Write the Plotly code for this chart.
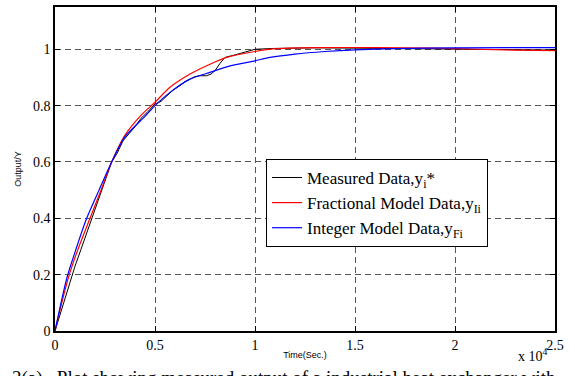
import plotly.graph_objects as go

# ---- data ----
t_meas = [0, 300, 500, 800, 1000, 1300, 1600, 1833, 2100, 2400, 2833, 3100, 3400, 3700,
          4000, 4300, 4600, 5000, 5300, 5600, 5900, 6250, 6500, 6750, 7000, 7250, 7580,
          7800, 8000, 8250, 8500, 9000, 9500, 10000, 11000, 13000, 15000, 17000, 19000,
          21000, 23000, 25000]
y_meas = [0, 0.07, 0.12, 0.19, 0.23, 0.29, 0.35, 0.40, 0.45, 0.51, 0.60, 0.63, 0.675, 0.70,
          0.725, 0.755, 0.775, 0.806, 0.815, 0.835, 0.855, 0.871, 0.885, 0.894, 0.903, 0.906,
          0.906, 0.912, 0.924, 0.950, 0.971, 0.980, 0.990, 1.0, 1.003, 1.005, 1.004, 1.003,
          1.002, 1.0, 0.998, 0.997]

t_frac = [0, 250, 715, 1200, 1750, 2300, 2833, 3500, 4250, 5000, 5750, 6750, 7750, 8580,
          10000, 11000, 13000, 16000, 19000, 21000, 23000, 25000]
y_frac = [0, 0.075, 0.2, 0.30, 0.40, 0.50, 0.60, 0.695, 0.762, 0.812, 0.865, 0.912, 0.947,
          0.971, 0.992, 1.002, 1.006, 1.006, 1.004, 1.0, 0.997, 0.995]

t_int = [0, 300, 600, 1000, 1583, 2200, 2833, 3500, 4500, 5000, 5750, 6750, 7750, 8750,
         10000, 10750, 12000, 13500, 15000, 17000, 20000, 25000]
y_int = [0, 0.10, 0.19, 0.28, 0.40, 0.50, 0.60, 0.69, 0.762, 0.80, 0.847, 0.894, 0.918,
         0.941, 0.959, 0.971, 0.983, 0.992, 0.998, 1.002, 1.005, 1.006]

x_tickvals = [0, 5000, 10000, 15000, 20000, 25000]
x_ticktext = ["0", "0.5", "1", "1.5", "2", "2.5"]
y_tickvals = [0, 0.2, 0.4, 0.6, 0.8, 1.0]
y_ticktext = ["0", "0.2", "0.4", "0.6", "0.8", "1"]

names = ["Measured Data,y<sub>i</sub>*",
         "Fractional Model Data,y<sub>Ii</sub>",
         "Integer Model Data,y<sub>Fi</sub>"]

SERIF = "Liberation Serif"
SANS = "Liberation Sans"

fig = go.Figure()
fig.add_trace(go.Scatter(x=t_meas, y=y_meas, mode="lines", name=names[0],
                         line=dict(color="black", width=1)))
fig.add_trace(go.Scatter(x=t_frac, y=y_frac, mode="lines", name=names[1],
                         line=dict(color="#ff0000", width=1.2, shape="spline", smoothing=0.6)))
fig.add_trace(go.Scatter(x=t_int, y=y_int, mode="lines", name=names[2],
                         line=dict(color="#0000ff", width=1.2, shape="spline", smoothing=0.6)))

axis_common = dict(showline=True, linecolor="black", linewidth=1.5, mirror="allticks",
                   ticks="inside", ticklen=5, tickcolor="black",
                   showgrid=True, gridcolor="#555555", griddash="6px,4px", gridwidth=1,
                   zeroline=False)

fig.update_xaxes(range=[0, 25000], tickvals=x_tickvals, ticktext=x_ticktext,
                 tickfont=dict(family=SERIF, size=14, color="black"),
                 title=dict(text="Time(Sec.)", font=dict(family=SANS, size=9, color="black"),
                            standoff=0),
                 **axis_common)
fig.update_yaxes(range=[0, 1.15], tickvals=y_tickvals, ticktext=y_ticktext,
                 tickfont=dict(family=SERIF, size=14, color="black"),
                 title=dict(text="Output/Y", font=dict(family=SANS, size=9, color="black"),
                            standoff=10),
                 **axis_common)

fig.update_layout(
    width=575, height=376,
    margin=dict(l=55, r=20, t=5, b=45),
    paper_bgcolor="white", plot_bgcolor="white",
    showlegend=True,
    legend=dict(x=0.422, y=0.531, xanchor="left", yanchor="top",
                bgcolor="white", bordercolor="black", borderwidth=1,
                font=dict(family=SERIF, size=17, color="black"),
                tracegroupgap=0),
    annotations=[
        dict(text="x 10<sup>4</sup>", xref="paper", yref="paper", x=0.99, y=-0.04,
             xanchor="right", yanchor="top", showarrow=False,
             font=dict(family=SERIF, size=14, color="black")),
        dict(text="2(a).  Plot showing measured output of a industrial heat exchanger with",
             xref="paper", yref="paper", x=-0.09, y=-0.105, xanchor="left", yanchor="top",
             showarrow=False, font=dict(family=SERIF, size=19, color="black")),
    ],
)

fig.write_html("out.html", config={"displayModeBar": False},
               post_script="document.body.style.margin='0';document.body.style.overflow='hidden';")
